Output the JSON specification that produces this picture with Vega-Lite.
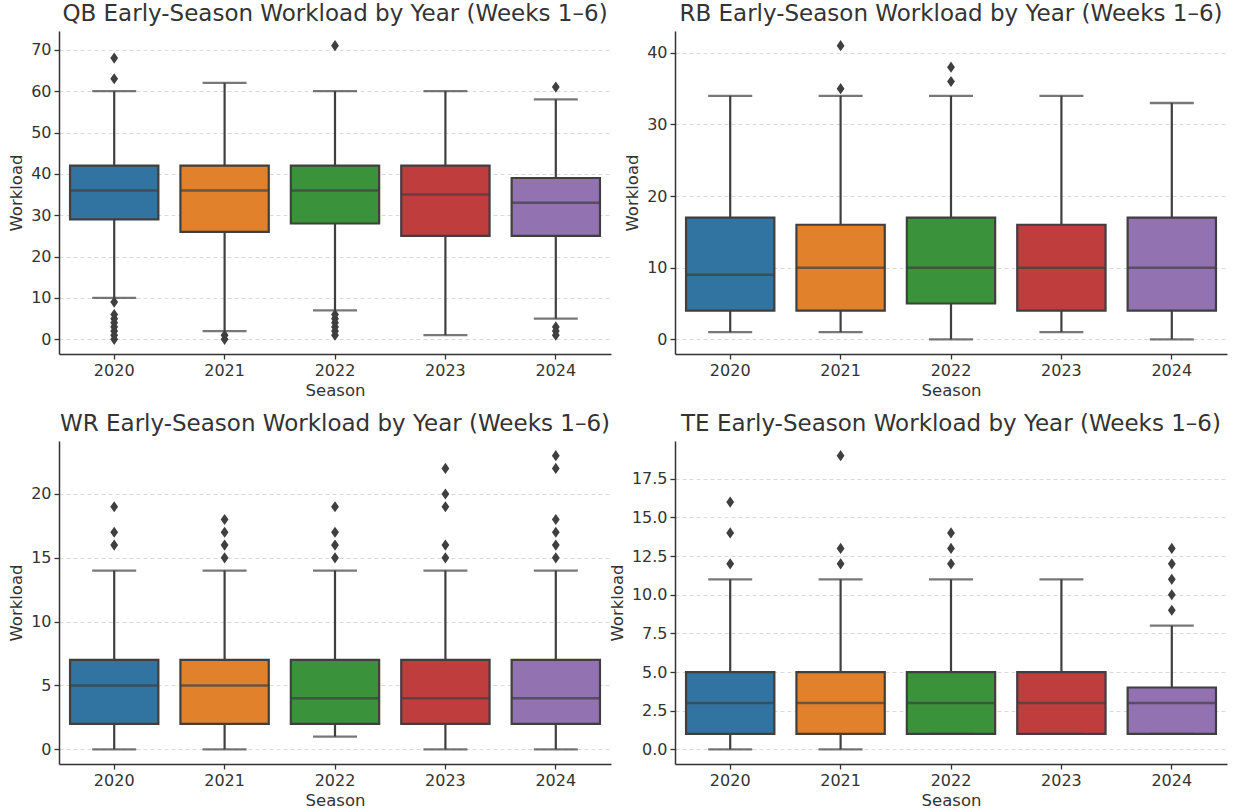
{
  "$schema": "https://vega.github.io/schema/vega-lite/v6.json",
  "background": "white",
  "padding": {"left": 8, "top": 3, "right": 5, "bottom": 5},
  "config": {
    "font": "DejaVu Sans",
    "view": {"stroke": null},
    "title": {"fontSize": 23, "fontWeight": "normal", "color": "#333333", "anchor": "middle", "frame": "group", "offset": 5},
    "axis": {
      "labelFont": "DejaVu Sans", "labelFontSize": 16, "labelColor": "#333333", "labelPadding": 3,
      "titleFont": "DejaVu Sans", "titleFontSize": 16.5, "titleFontWeight": "normal", "titleColor": "#333333",
      "domainColor": "#333333", "domainWidth": 1.5, "tickColor": "#333333", "tickSize": 5, "tickWidth": 1.3,
      "gridColor": "#cfcfcf", "gridDash": [4, 3], "gridWidth": 0.8
    }
  },
  "datasets": {
    "d": [
      {"pos": "QB", "season": "2020", "lo": 10, "q1": 29, "med": 36, "q3": 42, "hi": 60},
      {"pos": "QB", "season": "2021", "lo": 2, "q1": 26, "med": 36, "q3": 42, "hi": 62},
      {"pos": "QB", "season": "2022", "lo": 7, "q1": 28, "med": 36, "q3": 42, "hi": 60},
      {"pos": "QB", "season": "2023", "lo": 1, "q1": 25, "med": 35, "q3": 42, "hi": 60},
      {"pos": "QB", "season": "2024", "lo": 5, "q1": 25, "med": 33, "q3": 39, "hi": 58},
      {"pos": "RB", "season": "2020", "lo": 1, "q1": 4, "med": 9, "q3": 17, "hi": 34},
      {"pos": "RB", "season": "2021", "lo": 1, "q1": 4, "med": 10, "q3": 16, "hi": 34},
      {"pos": "RB", "season": "2022", "lo": 0, "q1": 5, "med": 10, "q3": 17, "hi": 34},
      {"pos": "RB", "season": "2023", "lo": 1, "q1": 4, "med": 10, "q3": 16, "hi": 34},
      {"pos": "RB", "season": "2024", "lo": 0, "q1": 4, "med": 10, "q3": 17, "hi": 33},
      {"pos": "WR", "season": "2020", "lo": 0, "q1": 2, "med": 5, "q3": 7, "hi": 14},
      {"pos": "WR", "season": "2021", "lo": 0, "q1": 2, "med": 5, "q3": 7, "hi": 14},
      {"pos": "WR", "season": "2022", "lo": 1, "q1": 2, "med": 4, "q3": 7, "hi": 14},
      {"pos": "WR", "season": "2023", "lo": 0, "q1": 2, "med": 4, "q3": 7, "hi": 14},
      {"pos": "WR", "season": "2024", "lo": 0, "q1": 2, "med": 4, "q3": 7, "hi": 14},
      {"pos": "TE", "season": "2020", "lo": 0, "q1": 1, "med": 3, "q3": 5, "hi": 11},
      {"pos": "TE", "season": "2021", "lo": 0, "q1": 1, "med": 3, "q3": 5, "hi": 11},
      {"pos": "TE", "season": "2022", "lo": 1, "q1": 1, "med": 3, "q3": 5, "hi": 11},
      {"pos": "TE", "season": "2023", "lo": 1, "q1": 1, "med": 3, "q3": 5, "hi": 11},
      {"pos": "TE", "season": "2024", "lo": 1, "q1": 1, "med": 3, "q3": 4, "hi": 8},
      {"pos": "QB", "season": "2020", "v": 68}, {"pos": "QB", "season": "2020", "v": 63}, {"pos": "QB", "season": "2020", "v": 9},
      {"pos": "QB", "season": "2020", "v": 6}, {"pos": "QB", "season": "2020", "v": 5}, {"pos": "QB", "season": "2020", "v": 4},
      {"pos": "QB", "season": "2020", "v": 3}, {"pos": "QB", "season": "2020", "v": 2}, {"pos": "QB", "season": "2020", "v": 1},
      {"pos": "QB", "season": "2020", "v": 0},
      {"pos": "QB", "season": "2021", "v": 1}, {"pos": "QB", "season": "2021", "v": 0},
      {"pos": "QB", "season": "2022", "v": 71}, {"pos": "QB", "season": "2022", "v": 6}, {"pos": "QB", "season": "2022", "v": 5},
      {"pos": "QB", "season": "2022", "v": 4}, {"pos": "QB", "season": "2022", "v": 3}, {"pos": "QB", "season": "2022", "v": 2},
      {"pos": "QB", "season": "2022", "v": 1},
      {"pos": "QB", "season": "2024", "v": 61}, {"pos": "QB", "season": "2024", "v": 3}, {"pos": "QB", "season": "2024", "v": 2},
      {"pos": "QB", "season": "2024", "v": 1},
      {"pos": "RB", "season": "2021", "v": 41}, {"pos": "RB", "season": "2021", "v": 35},
      {"pos": "RB", "season": "2022", "v": 38}, {"pos": "RB", "season": "2022", "v": 36},
      {"pos": "WR", "season": "2020", "v": 19}, {"pos": "WR", "season": "2020", "v": 17}, {"pos": "WR", "season": "2020", "v": 16},
      {"pos": "WR", "season": "2021", "v": 18}, {"pos": "WR", "season": "2021", "v": 17}, {"pos": "WR", "season": "2021", "v": 16}, {"pos": "WR", "season": "2021", "v": 15},
      {"pos": "WR", "season": "2022", "v": 19}, {"pos": "WR", "season": "2022", "v": 17}, {"pos": "WR", "season": "2022", "v": 16}, {"pos": "WR", "season": "2022", "v": 15},
      {"pos": "WR", "season": "2023", "v": 22}, {"pos": "WR", "season": "2023", "v": 20}, {"pos": "WR", "season": "2023", "v": 19}, {"pos": "WR", "season": "2023", "v": 16}, {"pos": "WR", "season": "2023", "v": 15},
      {"pos": "WR", "season": "2024", "v": 23}, {"pos": "WR", "season": "2024", "v": 22}, {"pos": "WR", "season": "2024", "v": 18}, {"pos": "WR", "season": "2024", "v": 17}, {"pos": "WR", "season": "2024", "v": 16}, {"pos": "WR", "season": "2024", "v": 15},
      {"pos": "TE", "season": "2020", "v": 16}, {"pos": "TE", "season": "2020", "v": 14}, {"pos": "TE", "season": "2020", "v": 12},
      {"pos": "TE", "season": "2021", "v": 19}, {"pos": "TE", "season": "2021", "v": 13}, {"pos": "TE", "season": "2021", "v": 12},
      {"pos": "TE", "season": "2022", "v": 14}, {"pos": "TE", "season": "2022", "v": 13}, {"pos": "TE", "season": "2022", "v": 12},
      {"pos": "TE", "season": "2024", "v": 13}, {"pos": "TE", "season": "2024", "v": 12}, {"pos": "TE", "season": "2024", "v": 11}, {"pos": "TE", "season": "2024", "v": 10}, {"pos": "TE", "season": "2024", "v": 9}
    ]
  },
  "data": {"name": "d"},
  "spacing": 14,
  "vconcat": [
    {"spacing": 13, "hconcat": [
      {
        "width": 552, "height": 323,
        "title": "QB Early-Season Workload by Year (Weeks 1–6)",
        "transform": [{"filter": "datum.pos === 'QB'"}],
        "encoding": {"x": {"field": "season", "type": "nominal", "scale": {"paddingInner": 0.2, "paddingOuter": 0.1}, "axis": {"title": "Season", "labelAngle": 0, "grid": false}}},
        "layer": [
          {"transform": [{"filter": "isValid(datum.med)"}], "mark": {"type": "rule", "color": "#3f3f3f", "strokeWidth": 2.2},
           "encoding": {"y": {"field": "lo", "type": "quantitative", "scale": {"domain": [-3.55, 74.55], "nice": false, "zero": false}, "axis": {"title": "Workload", "values": [0, 10, 20, 30, 40, 50, 60, 70], "titlePadding": 6}}, "y2": {"field": "hi"}}},
          {"transform": [{"filter": "isValid(datum.med)"}], "mark": {"type": "bar", "stroke": "#3f3f3f", "strokeWidth": 2.2},
           "encoding": {"y": {"field": "q1", "type": "quantitative"}, "y2": {"field": "q3"}, "color": {"field": "season", "type": "nominal", "scale": {"domain": ["2020", "2021", "2022", "2023", "2024"], "range": ["#3274a1", "#e1812c", "#3a923a", "#c03d3e", "#9372b2"]}, "legend": null}}},
          {"transform": [{"filter": "isValid(datum.med)"}], "mark": {"type": "tick", "color": "#3f3f3f", "size": 88, "thickness": 2.5}, "encoding": {"y": {"field": "med", "type": "quantitative"}}},
          {"transform": [{"filter": "isValid(datum.med)"}], "mark": {"type": "tick", "color": "#3f3f3f", "size": 44, "thickness": 2.3}, "encoding": {"y": {"field": "lo", "type": "quantitative"}}},
          {"transform": [{"filter": "isValid(datum.med)"}], "mark": {"type": "tick", "color": "#3f3f3f", "size": 44, "thickness": 2.3}, "encoding": {"y": {"field": "hi", "type": "quantitative"}}},
          {"transform": [{"filter": "isValid(datum.v)"}], "mark": {"type": "point", "shape": "M0,-1L0.7,0L0,1L-0.7,0Z", "filled": true, "color": "#3f3f3f", "opacity": 1, "size": 125}, "encoding": {"y": {"field": "v", "type": "quantitative"}}}
        ]
      },
      {
        "width": 552, "height": 323,
        "title": "RB Early-Season Workload by Year (Weeks 1–6)",
        "transform": [{"filter": "datum.pos === 'RB'"}],
        "encoding": {"x": {"field": "season", "type": "nominal", "scale": {"paddingInner": 0.2, "paddingOuter": 0.1}, "axis": {"title": "Season", "labelAngle": 0, "grid": false}}},
        "layer": [
          {"transform": [{"filter": "isValid(datum.med)"}], "mark": {"type": "rule", "color": "#3f3f3f", "strokeWidth": 2.2},
           "encoding": {"y": {"field": "lo", "type": "quantitative", "scale": {"domain": [-2.05, 43.05], "nice": false, "zero": false}, "axis": {"title": "Workload", "values": [0, 10, 20, 30, 40], "titlePadding": 6}}, "y2": {"field": "hi"}}},
          {"transform": [{"filter": "isValid(datum.med)"}], "mark": {"type": "bar", "stroke": "#3f3f3f", "strokeWidth": 2.2},
           "encoding": {"y": {"field": "q1", "type": "quantitative"}, "y2": {"field": "q3"}, "color": {"field": "season", "type": "nominal", "scale": {"domain": ["2020", "2021", "2022", "2023", "2024"], "range": ["#3274a1", "#e1812c", "#3a923a", "#c03d3e", "#9372b2"]}, "legend": null}}},
          {"transform": [{"filter": "isValid(datum.med)"}], "mark": {"type": "tick", "color": "#3f3f3f", "size": 88, "thickness": 2.5}, "encoding": {"y": {"field": "med", "type": "quantitative"}}},
          {"transform": [{"filter": "isValid(datum.med)"}], "mark": {"type": "tick", "color": "#3f3f3f", "size": 44, "thickness": 2.3}, "encoding": {"y": {"field": "lo", "type": "quantitative"}}},
          {"transform": [{"filter": "isValid(datum.med)"}], "mark": {"type": "tick", "color": "#3f3f3f", "size": 44, "thickness": 2.3}, "encoding": {"y": {"field": "hi", "type": "quantitative"}}},
          {"transform": [{"filter": "isValid(datum.v)"}], "mark": {"type": "point", "shape": "M0,-1L0.7,0L0,1L-0.7,0Z", "filled": true, "color": "#3f3f3f", "opacity": 1, "size": 125}, "encoding": {"y": {"field": "v", "type": "quantitative"}}}
        ]
      }
    ]},
    {"spacing": -2, "hconcat": [
      {
        "width": 552, "height": 323,
        "title": "WR Early-Season Workload by Year (Weeks 1–6)",
        "transform": [{"filter": "datum.pos === 'WR'"}],
        "encoding": {"x": {"field": "season", "type": "nominal", "scale": {"paddingInner": 0.2, "paddingOuter": 0.1}, "axis": {"title": "Season", "labelAngle": 0, "grid": false}}},
        "layer": [
          {"transform": [{"filter": "isValid(datum.med)"}], "mark": {"type": "rule", "color": "#3f3f3f", "strokeWidth": 2.2},
           "encoding": {"y": {"field": "lo", "type": "quantitative", "scale": {"domain": [-1.15, 24.15], "nice": false, "zero": false}, "axis": {"title": "Workload", "values": [0, 5, 10, 15, 20], "titlePadding": 6}}, "y2": {"field": "hi"}}},
          {"transform": [{"filter": "isValid(datum.med)"}], "mark": {"type": "bar", "stroke": "#3f3f3f", "strokeWidth": 2.2},
           "encoding": {"y": {"field": "q1", "type": "quantitative"}, "y2": {"field": "q3"}, "color": {"field": "season", "type": "nominal", "scale": {"domain": ["2020", "2021", "2022", "2023", "2024"], "range": ["#3274a1", "#e1812c", "#3a923a", "#c03d3e", "#9372b2"]}, "legend": null}}},
          {"transform": [{"filter": "isValid(datum.med)"}], "mark": {"type": "tick", "color": "#3f3f3f", "size": 88, "thickness": 2.5}, "encoding": {"y": {"field": "med", "type": "quantitative"}}},
          {"transform": [{"filter": "isValid(datum.med)"}], "mark": {"type": "tick", "color": "#3f3f3f", "size": 44, "thickness": 2.3}, "encoding": {"y": {"field": "lo", "type": "quantitative"}}},
          {"transform": [{"filter": "isValid(datum.med)"}], "mark": {"type": "tick", "color": "#3f3f3f", "size": 44, "thickness": 2.3}, "encoding": {"y": {"field": "hi", "type": "quantitative"}}},
          {"transform": [{"filter": "isValid(datum.v)"}], "mark": {"type": "point", "shape": "M0,-1L0.7,0L0,1L-0.7,0Z", "filled": true, "color": "#3f3f3f", "opacity": 1, "size": 125}, "encoding": {"y": {"field": "v", "type": "quantitative"}}}
        ]
      },
      {
        "width": 552, "height": 323,
        "title": "TE Early-Season Workload by Year (Weeks 1–6)",
        "transform": [{"filter": "datum.pos === 'TE'"}],
        "encoding": {"x": {"field": "season", "type": "nominal", "scale": {"paddingInner": 0.2, "paddingOuter": 0.1}, "axis": {"title": "Season", "labelAngle": 0, "grid": false}}},
        "layer": [
          {"transform": [{"filter": "isValid(datum.med)"}], "mark": {"type": "rule", "color": "#3f3f3f", "strokeWidth": 2.2},
           "encoding": {"y": {"field": "lo", "type": "quantitative", "scale": {"domain": [-0.95, 19.95], "nice": false, "zero": false}, "axis": {"title": "Workload", "values": [0, 2.5, 5, 7.5, 10, 12.5, 15, 17.5], "format": ".1f", "titlePadding": 6}}, "y2": {"field": "hi"}}},
          {"transform": [{"filter": "isValid(datum.med)"}], "mark": {"type": "bar", "stroke": "#3f3f3f", "strokeWidth": 2.2},
           "encoding": {"y": {"field": "q1", "type": "quantitative"}, "y2": {"field": "q3"}, "color": {"field": "season", "type": "nominal", "scale": {"domain": ["2020", "2021", "2022", "2023", "2024"], "range": ["#3274a1", "#e1812c", "#3a923a", "#c03d3e", "#9372b2"]}, "legend": null}}},
          {"transform": [{"filter": "isValid(datum.med)"}], "mark": {"type": "tick", "color": "#3f3f3f", "size": 88, "thickness": 2.5}, "encoding": {"y": {"field": "med", "type": "quantitative"}}},
          {"transform": [{"filter": "isValid(datum.med)"}], "mark": {"type": "tick", "color": "#3f3f3f", "size": 44, "thickness": 2.3}, "encoding": {"y": {"field": "lo", "type": "quantitative"}}},
          {"transform": [{"filter": "isValid(datum.med)"}], "mark": {"type": "tick", "color": "#3f3f3f", "size": 44, "thickness": 2.3}, "encoding": {"y": {"field": "hi", "type": "quantitative"}}},
          {"transform": [{"filter": "isValid(datum.v)"}], "mark": {"type": "point", "shape": "M0,-1L0.7,0L0,1L-0.7,0Z", "filled": true, "color": "#3f3f3f", "opacity": 1, "size": 125}, "encoding": {"y": {"field": "v", "type": "quantitative"}}}
        ]
      }
    ]}
  ]
}
